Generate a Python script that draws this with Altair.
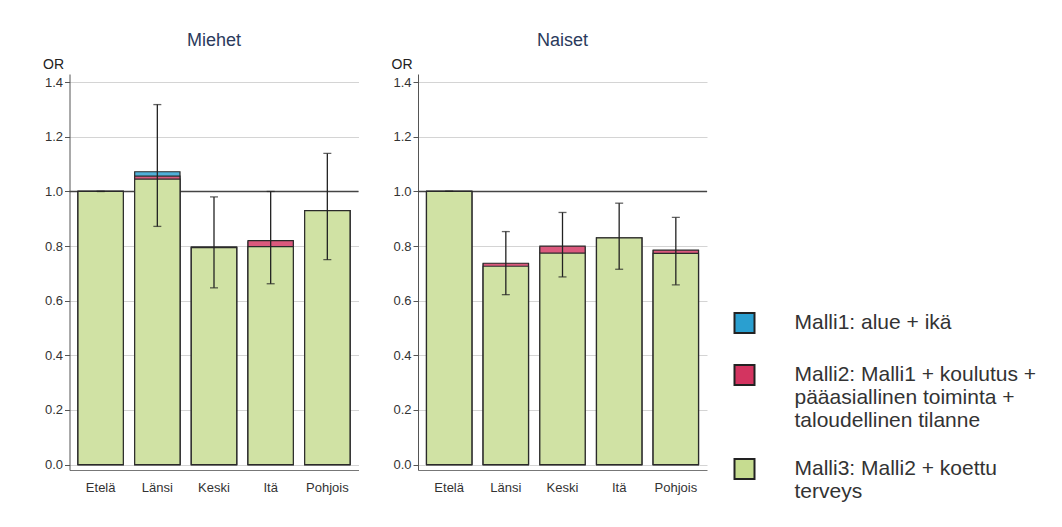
import altair as alt
import pandas as pd

alueet = ["Etelä", "Länsi", "Keski", "Itä", "Pohjois"]
mallit = [
    "Malli1: alue + ikä",
    "Malli2: Malli1 + koulutus +|pääasiallinen toiminta +|taloudellinen tilanne",
    "Malli3: Malli2 + koettu|terveys",
]
varit = ["#2a9fd0", "#d33460", "#c6dc90"]
y_ticks = [0.0, 0.2, 0.4, 0.6, 0.8, 1.0, 1.2, 1.4]
viitearvo = [1.0]

miehet_malli1 = [1.00, 1.072, 0.796, 0.815, 0.930]
miehet_malli2 = [1.00, 1.056, 0.796, 0.820, 0.930]
miehet_malli3 = [1.00, 1.045, 0.794, 0.798, 0.930]
miehet_ci_lo = [1.00, 0.872, 0.647, 0.662, 0.750]
miehet_ci_hi = [1.00, 1.318, 0.980, 1.000, 1.139]

naiset_malli1 = [1.00, 0.735, 0.795, 0.830, 0.783]
naiset_malli2 = [1.00, 0.737, 0.800, 0.830, 0.785]
naiset_malli3 = [1.00, 0.726, 0.774, 0.830, 0.773]
naiset_ci_lo = [1.00, 0.622, 0.687, 0.715, 0.658]
naiset_ci_hi = [1.00, 0.853, 0.923, 0.957, 0.905]

FONT = "Liberation Sans"


def panel(otsikko, m1, m2, m3, lo, hi):
    rows = []
    for malli, vals in zip(mallit, [m1, m2, m3]):
        for a, v in zip(alueet, vals):
            rows.append({"alue": a, "malli": malli, "OR": v})
    df = pd.DataFrame(rows)
    ci = pd.DataFrame({"alue": alueet, "lo": lo, "hi": hi})
    ref = pd.DataFrame({"OR": viitearvo})

    x = alt.X(
        "alue:N",
        sort=alueet,
        scale=alt.Scale(paddingInner=0.2, paddingOuter=0.15),
        axis=alt.Axis(
            title=None, labelAngle=0, ticks=False, domainColor="#777",
            labelFont=FONT, labelFontSize=13, labelColor="#333", labelPadding=11,
        ),
    )
    yscale = alt.Scale(domain=[-0.02, 1.43], nice=False, zero=False)
    y = alt.Y(
        "OR:Q",
        scale=yscale,
        axis=alt.Axis(
            values=y_ticks, format=".1f", title="OR", titleAngle=0,
            titleAlign="right", titleBaseline="middle", titleX=-6, titleY=-10,
            titleFont=FONT, titleFontSize=14, titleFontWeight="normal", titleColor="#222",
            labelFont=FONT, labelFontSize=13, labelColor="#333",
            domainColor="#555", tickColor="#555", tickSize=5,
            gridColor="#d4d4d4", gridWidth=1,
        ),
    )

    rule = alt.Chart(ref).mark_rule(color="#444", strokeWidth=1.6).encode(
        y=alt.Y("OR:Q", scale=yscale)
    )

    layers = [rule]
    for malli in mallit:
        sub = alt.Chart(df).transform_filter(alt.datum.malli == malli)
        white = sub.mark_bar(fill="white").encode(x=x, y=y, y2=alt.Y2(datum=0))
        col = sub.mark_bar(fillOpacity=0.82, stroke="#2a2a2a", strokeWidth=1.2).encode(
            x=x, y=y, y2=alt.Y2(datum=0),
            color=alt.Color(
                "malli:N",
                scale=alt.Scale(domain=mallit, range=varit),
                legend=alt.Legend(
                    title=None, orient="none", legendX=664, legendY=238,
                    direction="vertical", symbolType="square", symbolSize=400,
                    symbolStrokeColor="#222", symbolStrokeWidth=2, symbolOpacity=1,
                    labelFont=FONT, labelFontSize=21, labelColor="#333",
                    labelOffset=39, rowPadding=24, labelLimit=400,
                    labelExpr="split(datum.label, '|')",
                ),
            ),
        )
        layers += [white, col]

    eb = alt.Chart(ci).mark_rule(color="#222", strokeWidth=1.3).encode(
        x=x, y=alt.Y("lo:Q", scale=yscale), y2="hi:Q"
    )
    cap_lo = alt.Chart(ci).mark_tick(orient="horizontal", size=8, thickness=1.3, color="#222").encode(
        x=x, y=alt.Y("lo:Q", scale=yscale)
    )
    cap_hi = alt.Chart(ci).mark_tick(orient="horizontal", size=8, thickness=1.3, color="#222").encode(
        x=x, y=alt.Y("hi:Q", scale=yscale)
    )
    layers += [eb, cap_lo, cap_hi]

    return alt.layer(*layers).properties(
        width=289, height=396,
        title=alt.TitleParams(
            otsikko, font=FONT, fontSize=18, fontWeight="normal", color="#2b3a5c",
            anchor="middle", offset=7,
        ),
    )


left = panel("Miehet", miehet_malli1, miehet_malli2, miehet_malli3, miehet_ci_lo, miehet_ci_hi)
right = panel("Naiset", naiset_malli1, naiset_malli2, naiset_malli3, naiset_ci_lo, naiset_ci_hi)

chart = (
    alt.hconcat(left, right, spacing=31.5)
    .properties(padding={"left": 34.5, "top": 24, "right": 0, "bottom": 0})
    .configure(background="white")
    .configure_view(stroke="transparent", strokeWidth=0)
)

chart.save("out.html", embed_options={"renderer": "svg", "actions": False})
